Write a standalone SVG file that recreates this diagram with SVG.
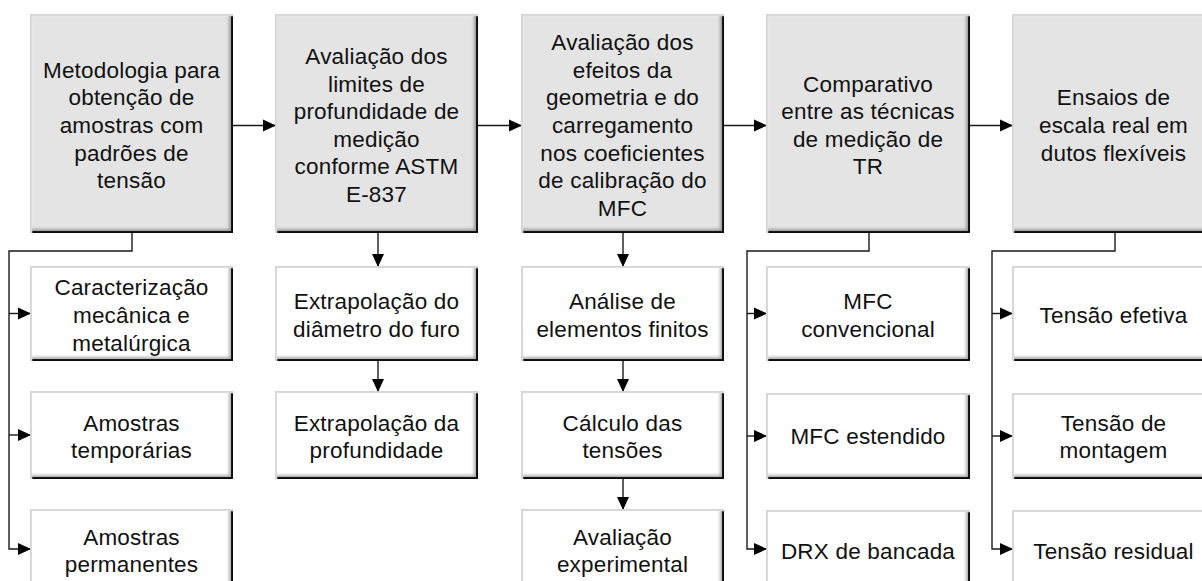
<svg xmlns="http://www.w3.org/2000/svg" width="1202" height="581" viewBox="0 0 1202 581">
<style>
.box{stroke:#111;stroke-width:1.8;filter:url(#bevel)}
.main{fill:#e4e4e4}
.sub{fill:#ffffff}
.t{font-family:"Liberation Sans",Arial,sans-serif;font-size:22.5px;fill:#111;text-anchor:middle;letter-spacing:0.2px}
.c{fill:none;stroke:#1a1a1a;stroke-width:1.4}
.a{marker-end:url(#arr)}
</style>
<defs>
<marker id="arr" markerUnits="userSpaceOnUse" viewBox="0 0 14 13" markerWidth="14" markerHeight="13" refX="13" refY="6.5" orient="auto">
<path d="M0,0.5 L13,6.5 L0,12.5 z" fill="#000"/>
</marker>
<filter id="bevel" x="-0.05" y="-0.05" width="1.1" height="1.1">
<feOffset in="SourceAlpha" dx="-4" dy="-4" result="off"/>
<feGaussianBlur in="off" stdDeviation="1.5" result="blur"/>
<feComposite in="SourceAlpha" in2="blur" operator="out" result="edge"/>
<feFlood flood-color="#000" flood-opacity="0.6"/>
<feComposite in2="edge" operator="in" result="shadow"/>
<feOffset in="SourceAlpha" dx="2" dy="2" result="off2"/>
<feComposite in="SourceAlpha" in2="off2" operator="out" result="edge2"/>
<feFlood flood-color="#fff" flood-opacity="0.7"/>
<feComposite in2="edge2" operator="in" result="hl"/>
<feMerge><feMergeNode in="SourceGraphic"/><feMergeNode in="shadow"/><feMergeNode in="hl"/></feMerge>
</filter>
</defs>

<g id="connectors">
<path class="c a" d="M232,125.5 H276"/>
<path class="c a" d="M477,125.5 H522"/>
<path class="c a" d="M723,125.5 H767"/>
<path class="c a" d="M969,125.5 H1013"/>
<path class="c a" d="M132,232 V251 H9 V549 H31"/>
<path class="c a" d="M9,313.5 H31"/>
<path class="c a" d="M9,435 H31"/>
<path class="c a" d="M378,232 V267"/>
<path class="c a" d="M378,360 V392"/>
<path class="c a" d="M623,232 V267"/>
<path class="c a" d="M623,360 V392"/>
<path class="c a" d="M623,478 V510"/>
<path class="c a" d="M869,232 V251 H747 V549 H767"/>
<path class="c a" d="M747,313.5 H767"/>
<path class="c a" d="M747,436 H767"/>
<path class="c a" d="M1115,232 V251 H992 V549 H1013"/>
<path class="c a" d="M992,313.5 H1013"/>
<path class="c a" d="M992,436 H1013"/>
</g>

<g id="n1">
<rect class="box main" x="31" y="15" width="201" height="217"/>
<text class="t" x="131.5" y="77.8">Metodologia para</text>
<text class="t" x="131.5" y="105.4">obtenção de</text>
<text class="t" x="131.5" y="133">amostras com</text>
<text class="t" x="131.5" y="160.6">padrões de</text>
<text class="t" x="131.5" y="188.2">tensão</text>
</g>
<g id="n2">
<rect class="box main" x="276" y="15" width="201" height="217"/>
<text class="t" x="376.5" y="64">Avaliação dos</text>
<text class="t" x="376.5" y="91.6">limites de</text>
<text class="t" x="376.5" y="119.2">profundidade de</text>
<text class="t" x="376.5" y="146.8">medição</text>
<text class="t" x="376.5" y="174.4">conforme ASTM</text>
<text class="t" x="376.5" y="202">E-837</text>
</g>
<g id="n3">
<rect class="box main" x="522" y="15" width="201" height="217"/>
<text class="t" x="622.5" y="50.2">Avaliação dos</text>
<text class="t" x="622.5" y="77.8">efeitos da</text>
<text class="t" x="622.5" y="105.4">geometria e do</text>
<text class="t" x="622.5" y="133">carregamento</text>
<text class="t" x="622.5" y="160.6">nos coeficientes</text>
<text class="t" x="622.5" y="188.2">de calibração do</text>
<text class="t" x="622.5" y="215.8">MFC</text>
</g>
<g id="n4">
<rect class="box main" x="767" y="15" width="202" height="217"/>
<text class="t" x="868" y="91.6">Comparativo</text>
<text class="t" x="868" y="119.2">entre as técnicas</text>
<text class="t" x="868" y="146.8">de medição de</text>
<text class="t" x="868" y="174.4">TR</text>
</g>
<g id="n5">
<rect class="box main" x="1013" y="15" width="201" height="217"/>
<text class="t" x="1113.5" y="105.4">Ensaios de</text>
<text class="t" x="1113.5" y="133">escala real em</text>
<text class="t" x="1113.5" y="160.6">dutos flexíveis</text>
</g>

<g id="n1a">
<rect class="box sub" x="31" y="267" width="201" height="93"/>
<text class="t" x="131.5" y="295.4">Caracterização</text>
<text class="t" x="131.5" y="323">mecânica e</text>
<text class="t" x="131.5" y="350.6">metalúrgica</text>
</g>
<g id="n1b">
<rect class="box sub" x="31" y="392" width="201" height="86"/>
<text class="t" x="131.5" y="430.7">Amostras</text>
<text class="t" x="131.5" y="458.3">temporárias</text>
</g>
<g id="n1c">
<rect class="box sub" x="31" y="510" width="201" height="80"/>
<text class="t" x="131.5" y="544.7">Amostras</text>
<text class="t" x="131.5" y="572.3">permanentes</text>
</g>

<g id="n2a">
<rect class="box sub" x="276" y="267" width="201" height="93"/>
<text class="t" x="376.5" y="309.2">Extrapolação do</text>
<text class="t" x="376.5" y="336.8">diâmetro do furo</text>
</g>
<g id="n2b">
<rect class="box sub" x="276" y="392" width="201" height="86"/>
<text class="t" x="376.5" y="430.7">Extrapolação da</text>
<text class="t" x="376.5" y="458.3">profundidade</text>
</g>

<g id="n3a">
<rect class="box sub" x="522" y="267" width="201" height="93"/>
<text class="t" x="622.5" y="309.2">Análise de</text>
<text class="t" x="622.5" y="336.8">elementos finitos</text>
</g>
<g id="n3b">
<rect class="box sub" x="522" y="392" width="201" height="86"/>
<text class="t" x="622.5" y="430.7">Cálculo das</text>
<text class="t" x="622.5" y="458.3">tensões</text>
</g>
<g id="n3c">
<rect class="box sub" x="522" y="510" width="201" height="80"/>
<text class="t" x="622.5" y="544.7">Avaliação</text>
<text class="t" x="622.5" y="572.3">experimental</text>
</g>

<g id="n4a">
<rect class="box sub" x="767" y="267" width="202" height="93"/>
<text class="t" x="868" y="309.2">MFC</text>
<text class="t" x="868" y="336.8">convencional</text>
</g>
<g id="n4b">
<rect class="box sub" x="767" y="394" width="202" height="84"/>
<text class="t" x="868" y="444">MFC estendido</text>
</g>
<g id="n4c">
<rect class="box sub" x="767" y="511" width="202" height="80"/>
<text class="t" x="868" y="558.5">DRX de bancada</text>
</g>

<g id="n5a">
<rect class="box sub" x="1013" y="267" width="201" height="93"/>
<text class="t" x="1113.5" y="323">Tensão efetiva</text>
</g>
<g id="n5b">
<rect class="box sub" x="1013" y="394" width="201" height="84"/>
<text class="t" x="1113.5" y="430.7">Tensão de</text>
<text class="t" x="1113.5" y="458.3">montagem</text>
</g>
<g id="n5c">
<rect class="box sub" x="1013" y="511" width="201" height="80"/>
<text class="t" x="1113.5" y="558.5">Tensão residual</text>
</g>
</svg>
